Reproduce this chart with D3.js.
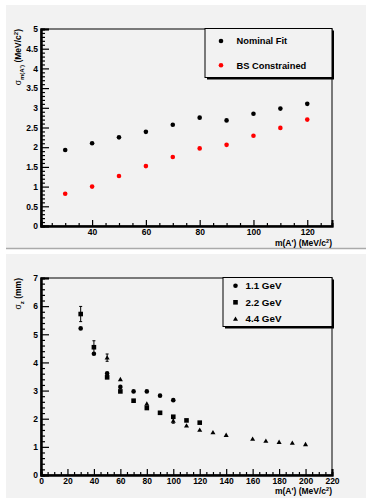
<!DOCTYPE html>
<html>
<head>
<meta charset="utf-8">
<script src="https://cdn.jsdelivr.net/npm/d3@7"></script>
<style>
  body { margin: 0; background: #fff; }
  svg { display: block; font-family: "Liberation Sans", Arial, sans-serif; font-weight: bold; }
</style>
</head>
<body>
<div id="chart"></div>
<script>
// top panel: mass resolution vs m(A')
const massPoints = [30, 40, 50, 60, 70, 80, 90, 100, 110, 120];
const nominalFit = [1.93, 2.10, 2.25, 2.39, 2.57, 2.75, 2.68, 2.85, 2.98, 3.10];
const bsConstrained = [0.82, 1.00, 1.27, 1.52, 1.75, 1.97, 2.06, 2.29, 2.49, 2.70];
const topXTicks = [40, 60, 80, 100, 120];
const topYTicks = [0, 0.5, 1, 1.5, 2, 2.5, 3, 3.5, 4, 4.5, 5];

// bottom panel: sigma_z vs m(A') for three beam energies
const mass11 = [30, 40, 50, 60, 70, 80, 90, 100];
const sigz11 = [5.21, 4.31, 3.61, 3.13, 2.97, 2.97, 2.82, 2.66];
const err11 = [0, 0, 0, 0, 0, 0, 0, 0];
const mass22 = [30, 40, 50, 60, 70, 80, 90, 100, 110, 120];
const sigz22 = [5.72, 4.54, 3.47, 2.97, 2.64, 2.38, 2.21, 2.07, 1.94, 1.86];
const err22 = [0.27, 0.23, 0, 0, 0, 0, 0, 0, 0, 0];
const mass44 = [50, 60, 80, 100, 110, 120, 130, 140, 160, 170, 180, 190, 200];
const sigz44 = [4.17, 3.40, 2.53, 1.92, 1.75, 1.60, 1.51, 1.42, 1.28, 1.21, 1.17, 1.14, 1.09];
const err44 = [0.13, 0, 0, 0.08, 0, 0, 0, 0, 0, 0, 0, 0, 0];
const botXTicks = [0, 20, 40, 60, 80, 100, 120, 140, 160, 180, 200, 220];
const botYTicks = [0, 1, 2, 3, 4, 5, 6, 7];

const W = 366, H = 498;
const svg = d3.select("#chart").append("svg").attr("width", W).attr("height", H);

// pads
svg.append("rect").attr("x", 6).attr("y", 5).attr("width", W - 6).attr("height", 243).attr("fill", "#f2f2f2");
svg.append("line").attr("x1", 6).attr("x2", W).attr("y1", 248.5).attr("y2", 248.5).attr("stroke", "#aaa").attr("stroke-width", 1.5);
svg.append("rect").attr("x", 6).attr("y", 254).attr("width", W - 6).attr("height", H - 254).attr("fill", "#f2f2f2");

function marker(g, shape, x, y, color) {
  if (shape === "circle") {
    g.append("circle").attr("cx", x).attr("cy", y).attr("r", 2.3).attr("fill", color);
  } else if (shape === "square") {
    g.append("rect").attr("x", x - 2.3).attr("y", y - 2.3).attr("width", 4.6).attr("height", 4.6).attr("fill", color);
  } else {
    g.append("path").attr("d", d3.symbol(d3.symbolTriangle, 11)()).attr("transform", `translate(${x},${y + 0.4})`).attr("fill", color);
  }
}

function drawAxes(g, x, y, opt) {
  const [x0, x1] = x.range();
  const [y0, y1] = y.range();
  // frame
  g.append("rect").attr("x", x0).attr("y", y1).attr("width", x1 - x0).attr("height", y0 - y1)
    .attr("fill", "none").attr("stroke", "#000").attr("stroke-width", 1);

  g.append("g").attr("transform", `translate(0,${y0})`)
    .call(d3.axisBottom(x).tickValues(opt.xTicks).tickSize(-6).tickPadding(2.5).tickFormat(d3.format("d")));
  g.append("g").attr("transform", `translate(0,${y0})`)
    .call(d3.axisBottom(x).tickValues(opt.xMinor).tickSize(-3).tickFormat(""));
  g.append("g").attr("transform", `translate(${x0},0)`)
    .call(d3.axisLeft(y).tickValues(opt.yTicks).tickSize(-8).tickPadding(3).tickFormat(opt.yFormat));
  g.append("g").attr("transform", `translate(${x0},0)`)
    .call(d3.axisLeft(y).tickValues(opt.yMinor).tickSize(-4).tickFormat(""));

  g.selectAll(".domain").attr("stroke-width", 2);
  g.selectAll(".tick line").attr("stroke-width", 1.2);
  g.selectAll(".tick text").attr("font-size", 8.5).attr("font-weight", "bold").attr("fill", "#000")
    .attr("font-family", "Liberation Sans, Arial, sans-serif");
}

function legend(g, x, y, w, h, items, fontSize) {
  g.append("rect").attr("x", x + 2).attr("y", y + 2).attr("width", w).attr("height", h).attr("fill", "#000");
  g.append("rect").attr("x", x).attr("y", y).attr("width", w).attr("height", h).attr("fill", "#f2f2f2")
    .attr("stroke", "#000").attr("stroke-width", 1);
  items.forEach(it => {
    marker(g, it.shape, x + it.mx, y + it.dy, it.color);
    g.append("text").attr("x", x + it.tx).attr("y", y + it.dy).attr("dy", "0.35em")
      .attr("font-size", fontSize).text(it.label);
  });
}

function massLabel(g, xr, yb) {
  const t = g.append("text").attr("x", xr).attr("y", yb).attr("text-anchor", "end").attr("font-size", 8.5);
  t.append("tspan").text("m(A') (MeV/c");
  t.append("tspan").attr("font-size", 5.5).attr("dy", -3).text("2");
  t.append("tspan").attr("dy", 3).text(")");
}

// ---------- top panel ----------
{
  const g = svg.append("g");
  const x = d3.scaleLinear().domain([21, 129.2]).range([41, 332]);
  const y = d3.scaleLinear().domain([0, 5]).range([226, 29]);
  drawAxes(g, x, y, {
    xTicks: topXTicks,
    xMinor: d3.range(25, 129, 5).filter(v => v % 20 !== 0),
    yTicks: topYTicks,
    yMinor: d3.range(0, 5.001, 0.1).map(v => +v.toFixed(1)).filter(v => Math.round(v * 10) % 5 !== 0),
    yFormat: d => d3.format("")(d)
  });

  massPoints.forEach((m, i) => marker(g, "circle", x(m), y(nominalFit[i]), "#000"));
  massPoints.forEach((m, i) => marker(g, "circle", x(m), y(bsConstrained[i]), "#ff0000"));

  legend(g, 205, 28.5, 127, 49, [
    { shape: "circle", color: "#000", label: "Nominal Fit", mx: 16, tx: 31.5, dy: 12.5 },
    { shape: "circle", color: "#ff0000", label: "BS Constrained", mx: 16, tx: 31.5, dy: 36.8 }
  ], 9.3);

  massLabel(g, 332, 245.5);

  const yl = g.append("text").attr("transform", "translate(21,29) rotate(-90)").attr("text-anchor", "end").attr("font-size", 8.5);
  yl.append("tspan").attr("font-weight", "normal").text("σ");
  yl.append("tspan").attr("font-size", 6).attr("dy", 2.5).text("m(A')");
  yl.append("tspan").attr("dy", -2.5).text(" (MeV/c");
  yl.append("tspan").attr("font-size", 6).attr("dy", -3.5).text("2");
  yl.append("tspan").attr("dy", 3.5).text(")");
}

// ---------- bottom panel ----------
{
  const g = svg.append("g");
  const x = d3.scaleLinear().domain([0, 220]).range([41, 332]);
  const y = d3.scaleLinear().domain([0, 7]).range([475, 278]);
  drawAxes(g, x, y, {
    xTicks: botXTicks,
    xMinor: d3.range(5, 220, 5).filter(v => v % 20 !== 0),
    yTicks: botYTicks,
    yMinor: d3.range(0, 7.001, 0.2).map(v => +v.toFixed(1)).filter(v => Math.round(v * 10) % 10 !== 0),
    yFormat: d3.format("d")
  });

  const series = [
    { m: mass44, s: sigz44, e: err44, shape: "triangle" },
    { m: mass22, s: sigz22, e: err22, shape: "square" },
    { m: mass11, s: sigz11, e: err11, shape: "circle" }
  ];
  series.forEach(sr => {
    sr.m.forEach((m, i) => {
      if (sr.e[i] > 0) {
        const cx = x(m), ya = y(sr.s[i] + sr.e[i]), yb = y(sr.s[i] - sr.e[i]);
        g.append("line").attr("x1", cx).attr("x2", cx).attr("y1", ya).attr("y2", yb).attr("stroke", "#000").attr("stroke-width", 1);
        [ya, yb].forEach(yy => g.append("line").attr("x1", cx - 1.5).attr("x2", cx + 1.5).attr("y1", yy).attr("y2", yy)
          .attr("stroke", "#000").attr("stroke-width", 1));
      }
      marker(g, sr.shape, x(m), y(sr.s[i]), "#000");
    });
  });

  legend(g, 223, 277.5, 109, 49, [
    { shape: "circle", color: "#000", label: "1.1 GeV", mx: 12.5, tx: 22.5, dy: 8.2 },
    { shape: "square", color: "#000", label: "2.2 GeV", mx: 12.5, tx: 22.5, dy: 24.8 },
    { shape: "triangle", color: "#000", label: "4.4 GeV", mx: 12.5, tx: 22.5, dy: 41.5 }
  ], 9.8);

  massLabel(g, 332, 494);

  const yl = g.append("text").attr("transform", "translate(21,278) rotate(-90)").attr("text-anchor", "end").attr("font-size", 8.5);
  yl.append("tspan").attr("font-weight", "normal").text("σ");
  yl.append("tspan").attr("font-size", 6).attr("dy", 2.5).text("z");
  yl.append("tspan").attr("dy", -2.5).text(" (mm)");
}
</script>
</body>
</html>
